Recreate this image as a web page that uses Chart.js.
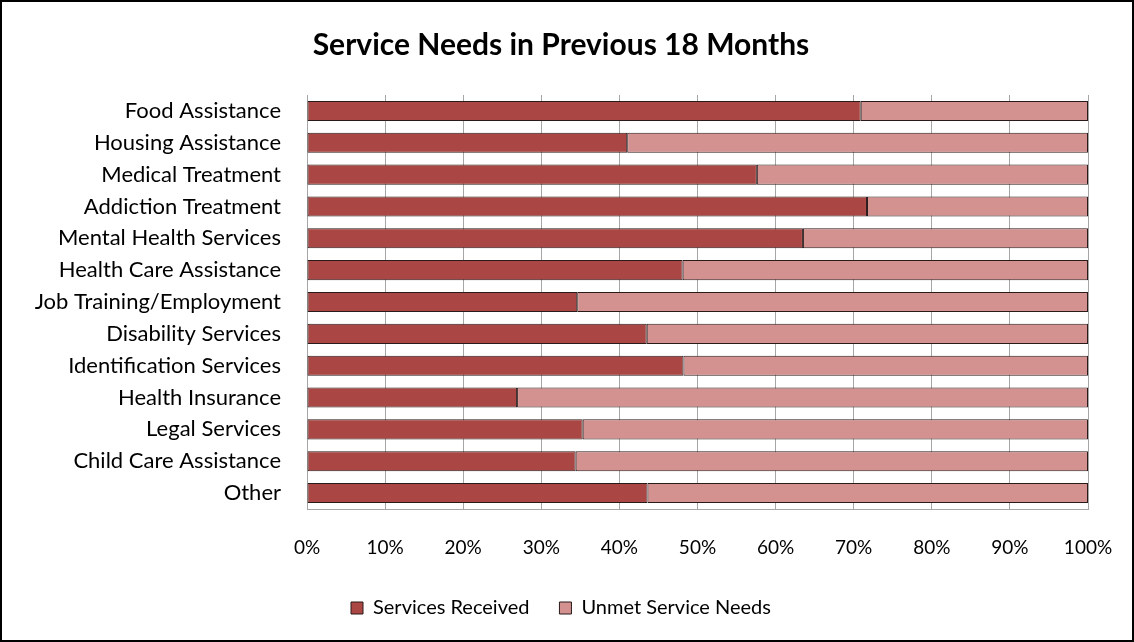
<!DOCTYPE html>
<html>
<head>
<meta charset="utf-8">
<script src="https://cdn.jsdelivr.net/npm/chart.js@4"></script>
<style>
  body { margin: 0; background: #fff; }
  #wrap { width: 1134px; height: 642px; box-sizing: border-box; border: 2px solid #000; position: relative; }
</style>
</head>
<body>
<div id="wrap"><canvas id="myChart" width="1130" height="638"></canvas></div>
<script>
var categories = ['Food Assistance', 'Housing Assistance', 'Medical Treatment', 'Addiction Treatment',
  'Mental Health Services', 'Health Care Assistance', 'Job Training/Employment', 'Disability Services',
  'Identification Services', 'Health Insurance', 'Legal Services', 'Child Care Assistance', 'Other'];
var servicesReceived = [70.9, 41.0, 57.6, 71.7, 63.5, 48.1, 34.6, 43.5, 48.2, 26.9, 35.3, 34.4, 43.6];
var unmetNeeds = [29.1, 59.0, 42.4, 28.3, 36.5, 51.9, 65.4, 56.5, 51.8, 73.1, 64.7, 65.6, 56.4];
var xTicks = [0, 10, 20, 30, 40, 50, 60, 70, 80, 90, 100];

var font = 'Lato';
var ctx = document.getElementById('myChart').getContext('2d');
var myChart = new Chart(ctx, {
  type: 'bar',
  data: {
    labels: categories,
    datasets: [{
      label: 'Services Received',
      data: servicesReceived,
      backgroundColor: '#AA4643',
      borderColor: '#2b1a1a',
      borderWidth: 1,
      borderSkipped: false,
      categoryPercentage: 0.63,
      barPercentage: 1
    }, {
      label: 'Unmet Service Needs',
      data: unmetNeeds,
      backgroundColor: '#D39290',
      borderColor: '#2b1a1a',
      borderWidth: 1,
      borderSkipped: false,
      categoryPercentage: 0.63,
      barPercentage: 1
    }]
  },
  options: {
    indexAxis: 'y',
    responsive: false,
    animation: false,
    layout: { padding: { left: 32, right: 44, top: 0, bottom: 12 } },
    plugins: {
      title: {
        display: true,
        text: 'Service Needs in Previous 18 Months',
        color: '#000',
        font: { family: font, size: 30, weight: 'bold' },
        padding: { top: 25, bottom: 32 }
      },
      legend: {
        position: 'bottom',
        maxHeight: 62,
        labels: {
          color: '#000',
          font: { family: font, size: 20 },
          boxWidth: 12,
          boxHeight: 12,
          padding: 30
        }
      },
      tooltip: { enabled: false }
    },
    scales: {
      x: {
        stacked: true,
        min: 0,
        max: 100,
        afterBuildTicks: function (s) { s.ticks = xTicks.map(function (v) { return { value: v }; }); },
        afterFit: function (s) { s.height = 59; s.paddingRight = 0; s.paddingLeft = 0; },
        ticks: {
          color: '#000',
          font: { family: font, size: 19 },
          padding: 27,
          callback: function (v) { return v + '%'; }
        },
        grid: { color: '#a6a6a6', drawTicks: false },
        border: { color: '#a6a6a6' }
      },
      y: {
        stacked: true,
        afterFit: function (s) { s.width = 273; },
        ticks: {
          color: '#000',
          font: { family: font, size: 22 },
          padding: 26
        },
        grid: { display: false, drawTicks: false },
        border: { display: true, color: '#a6a6a6' }
      }
    }
  }
});
</script>
</body>
</html>
